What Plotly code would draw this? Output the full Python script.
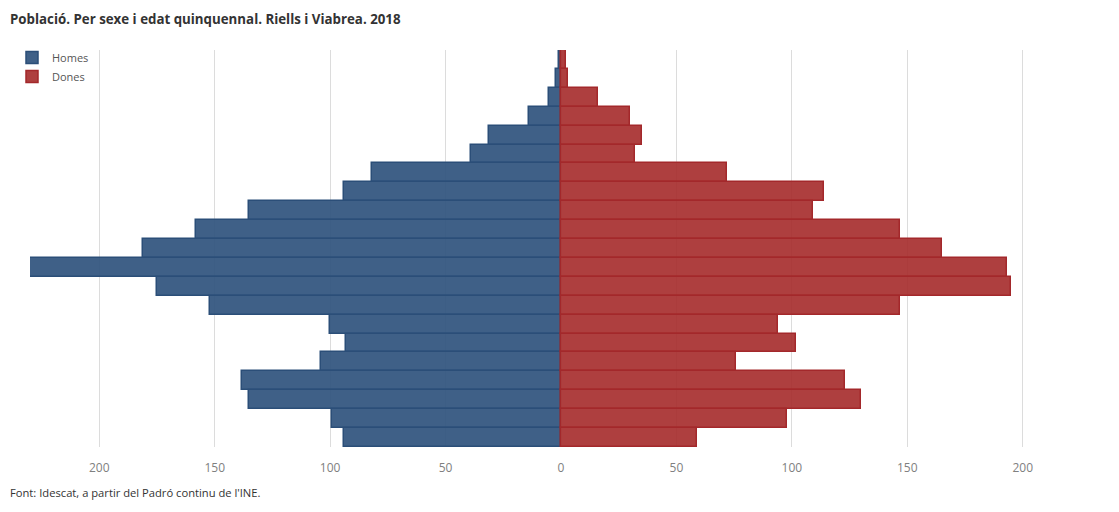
import plotly.graph_objects as go

age_groups = ["0-4", "5-9", "10-14", "15-19", "20-24", "25-29", "30-34", "35-39",
              "40-44", "45-49", "50-54", "55-59", "60-64", "65-69", "70-74", "75-79",
              "80-84", "85-89", "90-94", "95-99", "100+"]
# values listed bottom (0-4) to top (100+)
homes = [94, 99, 135, 138, 104, 93, 100, 152, 175, 230, 181, 158, 135, 94, 82, 39, 31, 14, 5, 2, 1]
dones = [59, 98, 130, 123, 76, 102, 94, 147, 195, 193, 165, 147, 109, 114, 72, 32, 35, 30, 16, 3, 2]
tick_values = [-200, -150, -100, -50, 0, 50, 100, 150, 200]
tick_labels = ["200", "150", "100", "50", "0", "50", "100", "150", "200"]

W, H = 1111, 504  # page body has an 8px margin
L, R, T, B = 22, 27, 42, 65
plot_h = H - T - B
plot_w = W - L - R

fig = go.Figure()
fig.add_trace(go.Bar(
    y=age_groups, x=[-v for v in homes], name="Homes", orientation="h",
    marker=dict(color="rgba(47,82,125,0.92)", line=dict(color="#2b4e78", width=1.5)),
    customdata=homes, hovertemplate="%{y}: %{customdata}<extra>Homes</extra>",
))
fig.add_trace(go.Bar(
    y=age_groups, x=dones, name="Dones", orientation="h",
    marker=dict(color="rgba(165,42,42,0.9)", line=dict(color="#a3282b", width=1.5)),
    hovertemplate="%{y}: %{x}<extra>Dones</extra>",
))

fig.update_layout(
    width=W, height=H,
    barmode="overlay", bargap=0,
    plot_bgcolor="white", paper_bgcolor="white",
    font=dict(family="Open Sans", color="#555"),
    margin=dict(l=L, r=R, t=T, b=B, autoexpand=False),
    title=dict(text="<b>Població. Per sexe i edat quinquennal. Riells i Viabrea. 2018</b>",
               x=2 / W, xanchor="left", y=1 - 11 / H, yanchor="middle",
               font=dict(size=13.3, color="#333")),
    xaxis=dict(range=[-230, 230], tickvals=tick_values, ticktext=tick_labels,
               showgrid=True, gridcolor="#dcdcdc", gridwidth=1, zeroline=False,
               tickfont=dict(size=12, color="#808080"), ticks="", showline=False,
               ticklabelstandoff=12, fixedrange=True, automargin=False),
    yaxis=dict(showticklabels=False, showgrid=False, zeroline=False, ticks="",
               range=[-0.5, 20.5], fixedrange=True, automargin=False),
    legend=dict(x=(4 - L) / plot_w, y=1 + 7 / plot_h, xanchor="left", yanchor="top",
                font=dict(size=11, color="#555"), traceorder="normal",
                bgcolor="rgba(0,0,0,0)", itemwidth=30),
    showlegend=True,
    annotations=[dict(text="Font: Idescat, a partir del Padró continu de l'INE.",
                      xref="paper", yref="paper", x=(0 - L) / plot_w, y=-45 / plot_h,
                      xanchor="left", yanchor="middle", showarrow=False,
                      font=dict(size=11.2, color="#333"))],
)

fig.write_html("out.html")
